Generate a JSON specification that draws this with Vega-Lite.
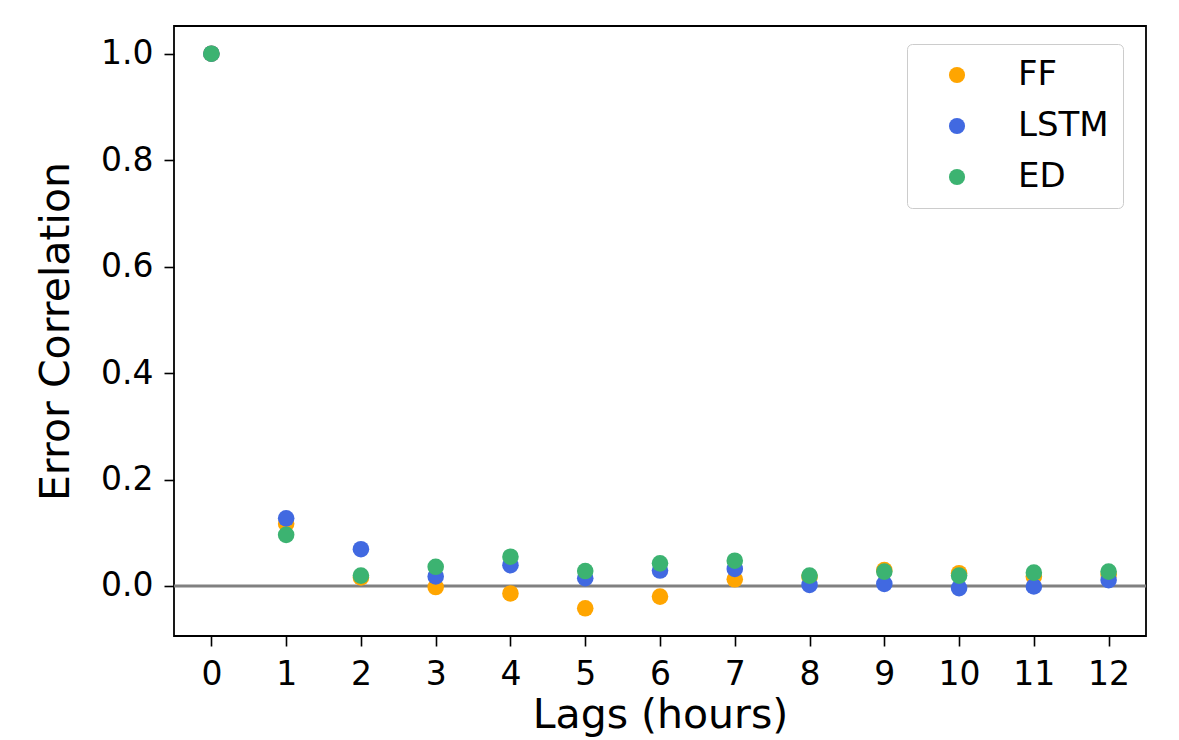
{
  "$schema": "https://vega.github.io/schema/vega-lite/v6.json",
  "autosize": "none",
  "width": 972,
  "height": 610,
  "padding": {"left": 174, "top": 26, "right": 33, "bottom": 104},
  "background": "white",
  "config": {
    "font": "DejaVu Sans",
    "view": {"stroke": "#000000", "strokeWidth": 1.8},
    "axis": {"domain": false, "grid": false, "tickColor": "#000000", "tickSize": 10, "tickWidth": 1.6, "labelFontSize": 33, "labelColor": "#000000", "titleFontSize": 41, "titleFontWeight": "normal", "titleColor": "#000000", "labelFont": "DejaVu Sans", "titleFont": "DejaVu Sans"}
  },
  "data": {
    "values": [
      {"lag": 0, "model": "FF", "corr": 1.0},
      {"lag": 1, "model": "FF", "corr": 0.117},
      {"lag": 2, "model": "FF", "corr": 0.016},
      {"lag": 3, "model": "FF", "corr": -0.002},
      {"lag": 4, "model": "FF", "corr": -0.014},
      {"lag": 5, "model": "FF", "corr": -0.042},
      {"lag": 6, "model": "FF", "corr": -0.020},
      {"lag": 7, "model": "FF", "corr": 0.0125},
      {"lag": 8, "model": "FF", "corr": 0.017},
      {"lag": 9, "model": "FF", "corr": 0.030},
      {"lag": 10, "model": "FF", "corr": 0.024},
      {"lag": 11, "model": "FF", "corr": 0.018},
      {"lag": 12, "model": "FF", "corr": 0.021},
      {"lag": 0, "model": "LSTM", "corr": 1.0},
      {"lag": 1, "model": "LSTM", "corr": 0.127},
      {"lag": 2, "model": "LSTM", "corr": 0.069},
      {"lag": 3, "model": "LSTM", "corr": 0.018},
      {"lag": 4, "model": "LSTM", "corr": 0.039},
      {"lag": 5, "model": "LSTM", "corr": 0.0145},
      {"lag": 6, "model": "LSTM", "corr": 0.029},
      {"lag": 7, "model": "LSTM", "corr": 0.032},
      {"lag": 8, "model": "LSTM", "corr": 0.002},
      {"lag": 9, "model": "LSTM", "corr": 0.004},
      {"lag": 10, "model": "LSTM", "corr": -0.004},
      {"lag": 11, "model": "LSTM", "corr": -0.001},
      {"lag": 12, "model": "LSTM", "corr": 0.011},
      {"lag": 0, "model": "ED", "corr": 1.0},
      {"lag": 1, "model": "ED", "corr": 0.096},
      {"lag": 2, "model": "ED", "corr": 0.0195},
      {"lag": 3, "model": "ED", "corr": 0.036},
      {"lag": 4, "model": "ED", "corr": 0.055},
      {"lag": 5, "model": "ED", "corr": 0.028},
      {"lag": 6, "model": "ED", "corr": 0.0425},
      {"lag": 7, "model": "ED", "corr": 0.0475},
      {"lag": 8, "model": "ED", "corr": 0.0195},
      {"lag": 9, "model": "ED", "corr": 0.027},
      {"lag": 10, "model": "ED", "corr": 0.0195},
      {"lag": 11, "model": "ED", "corr": 0.025},
      {"lag": 12, "model": "ED", "corr": 0.027}
    ]
  },
  "layer": [
    {
      "data": {"values": [{"zero": 0}]},
      "mark": {"type": "rule", "color": "#808080", "strokeWidth": 3},
      "encoding": {"y": {"field": "zero", "type": "quantitative", "scale": {"domain": [-0.094, 1.052], "nice": false, "zero": false}}}
    },
    {
      "mark": {"type": "circle", "size": 275, "opacity": 1},
      "encoding": {
        "x": {
          "field": "lag", "type": "quantitative",
          "scale": {"domain": [-0.5, 12.5], "nice": false, "zero": false},
          "axis": {"values": [0,1,2,3,4,5,6,7,8,9,10,11,12], "title": "Lags (hours)", "labelPadding": 12, "titlePadding": 4}
        },
        "y": {
          "field": "corr", "type": "quantitative",
          "scale": {"domain": [-0.094, 1.052], "nice": false, "zero": false},
          "axis": {"values": [0, 0.2, 0.4, 0.6, 0.8, 1.0], "format": ".1f", "title": "Error Correlation", "labelPadding": 11, "titlePadding": 23}
        },
        "color": {
          "field": "model", "type": "nominal",
          "scale": {"domain": ["FF", "LSTM", "ED"], "range": ["#FFA500", "#4169E1", "#3CB371"]},
          "legend": {
            "title": null, "orient": "none", "legendX": 733, "legendY": 18,
            "padding": 14, "symbolOffset": 19, "symbolSize": 260, "symbolType": "circle",
            "labelFontSize": 34, "labelOffset": 44, "rowPadding": 17, "labelColor": "#000000",
            "strokeColor": "#cccccc", "fillColor": "white", "cornerRadius": 5, "labelFont": "DejaVu Sans"
          }
        }
      }
    }
  ]
}
